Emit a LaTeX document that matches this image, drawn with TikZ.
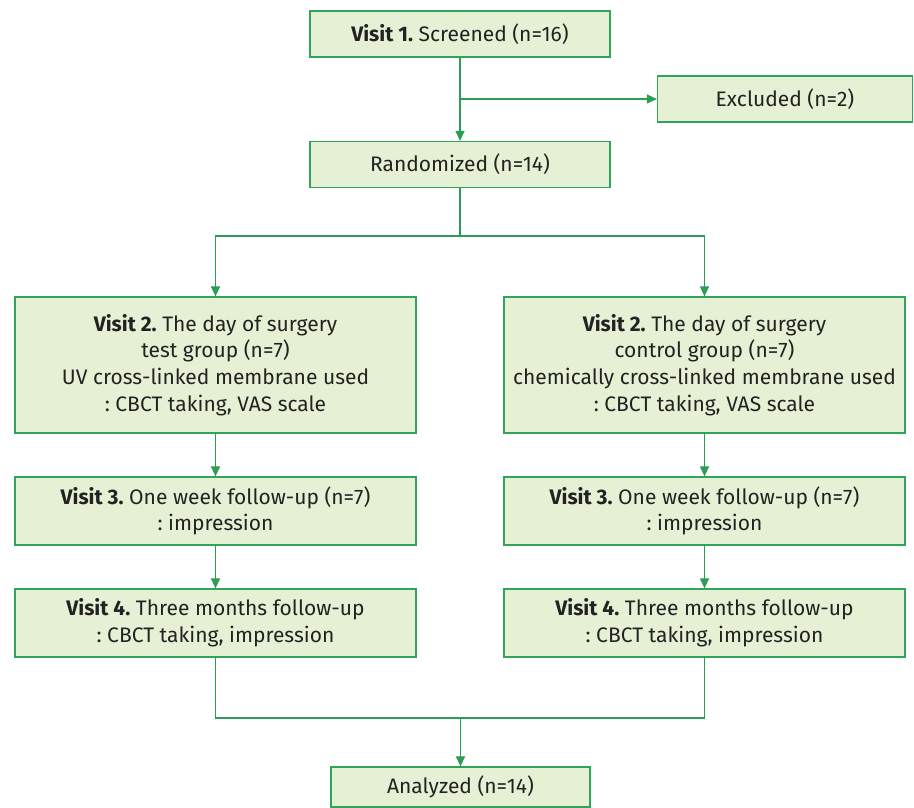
\documentclass[tikz,border=0pt]{standalone}
\usepackage{fontspec}
\setmainfont{Fira Sans}
\usepackage{tikz}
\usetikzlibrary{arrows.meta}
\definecolor{boxgreen}{HTML}{2EA55A}
\definecolor{boxfill}{HTML}{E6F0D4}
\definecolor{txtgray}{HTML}{222222}
\frenchspacing

\begin{document}
\begin{tikzpicture}[x = 1pt, y = 1pt,
  box/.style = {draw = boxgreen, fill = boxfill, line width = 1.2pt, inner sep = 0pt,
    align = center, text = txtgray, font = \fontsize{21}{26.7}\selectfont},
  flow/.style = {draw = boxgreen!95!black, line width = 1.1pt},
  arr/.style = {flow, -{Triangle[width = 9pt, length = 10pt]}}]
\useasboundingbox (0,0) rectangle (914,-808);

\node[box, minimum width = 300, minimum height = 46] (v1) at (460,-34)
  {\textbf{Visit 1.} Screened (n=16)};
\node[box, minimum width = 255, minimum height = 46] (excl) at (785,-99)
  {Excluded (n=2)};
\node[box, minimum width = 300, minimum height = 46] (rand) at (460,-164.5)
  {Randomized (n=14)};

\node[box, minimum width = 401, minimum height = 136] (tv2) at (215.5,-365)
  {\textbf{Visit 2.} The day of surgery\\ test group (n=7)\\ UV cross-linked membrane used\\ : CBCT taking, VAS scale};
\node[box, minimum width = 401, minimum height = 136] (cv2) at (704.5,-365)
  {\textbf{Visit 2.} The day of surgery\\ control group (n=7)\\ chemically cross-linked membrane used\\ : CBCT taking, VAS scale};

\node[box, minimum width = 401, minimum height = 68] (tv3) at (215.5,-511)
  {\textbf{Visit 3.} One week follow-up (n=7)\\ : impression};
\node[box, minimum width = 401, minimum height = 68] (cv3) at (704.5,-511)
  {\textbf{Visit 3.} One week follow-up (n=7)\\ : impression};

\node[box, minimum width = 401, minimum height = 68] (tv4) at (215.5,-623)
  {\textbf{Visit 4.} Three months follow-up\\ : CBCT taking, impression};
\node[box, minimum width = 401, minimum height = 68] (cv4) at (704.5,-623)
  {\textbf{Visit 4.} Three months follow-up\\ : CBCT taking, impression};

\node[box, minimum width = 259, minimum height = 40] (anal) at (460.5,-787)
  {Analyzed (n=14)};

\coordinate (branch) at (460,-99);
\coordinate (split) at (460,-236);
\coordinate (merge) at (460.5,-718);

\draw[arr] (v1) -- (rand);
\draw[arr] (branch) -- (excl);
\draw[flow] (rand) -- (split);
\draw[arr] (split) -| (tv2);
\draw[arr] (split) -| (cv2);
\draw[arr] (tv2) -- (tv3);
\draw[arr] (cv2) -- (cv3);
\draw[arr] (tv3) -- (tv4);
\draw[arr] (cv3) -- (cv4);
\draw[flow] (tv4) |- (merge) -| (cv4);
\draw[arr] (merge) -- (anal);
\end{tikzpicture}
\end{document}
